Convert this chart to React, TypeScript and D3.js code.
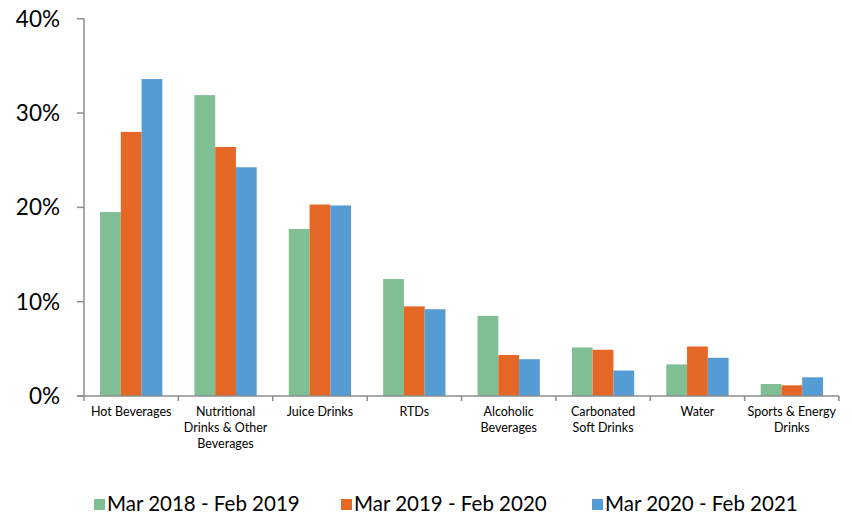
import React from "react";
import * as d3 from "d3";

const categories = [
  ["Hot Beverages"],
  ["Nutritional", "Drinks & Other", "Beverages"],
  ["Juice Drinks"],
  ["RTDs"],
  ["Alcoholic", "Beverages"],
  ["Carbonated", "Soft Drinks"],
  ["Water"],
  ["Sports & Energy", "Drinks"],
];
const seriesNames = ["Mar 2018 - Feb 2019", "Mar 2019 - Feb 2020", "Mar 2020 - Feb 2021"];
const series1 = [19.5, 31.9, 17.7, 12.4, 8.5, 5.15, 3.35, 1.27];
const series2 = [28.0, 26.4, 20.3, 9.5, 4.35, 4.9, 5.25, 1.13];
const series3 = [33.6, 24.25, 20.2, 9.2, 3.9, 2.7, 4.05, 1.98];
const colors = ["#7fbf93", "#e56726", "#559bd4"];
const yTicks = [0, 10, 20, 30, 40];

const W = 852, H = 515;
const FONT = "Lato, 'DejaVu Sans', sans-serif";

export default function App() {
  const x0 = 84, x1 = 839, yTop = 18.7, yBot = 396;
  const keys = categories.map((_, i) => String(i));
  const xb = d3.scaleBand().domain(keys).range([x0, x1]).paddingInner(0.34).paddingOuter(0.17);
  const xs = d3.scaleBand().domain(["0", "1", "2"]).range([0, xb.bandwidth()]);
  const y = d3.scaleLinear().domain([0, 40]).range([yBot, yTop]);
  const all = [series1, series2, series3];
  const step = (x1 - x0) / categories.length;

  return (
    <svg width={W} height={H} style={{ position: "absolute", left: 0, top: 0, background: "#fff" }} fontFamily={FONT}>
      {all.map((s, si) =>
        s.map((v, ci) => (
          <rect key={`${si}-${ci}`} x={(xb(String(ci)) as number) + (xs(String(si)) as number)} y={y(v)}
            width={xs.bandwidth()} height={yBot - y(v)} fill={colors[si]} />
        ))
      )}
      {/* y axis */}
      <line x1={x0} x2={x0} y1={yTop} y2={yBot} stroke="#8c8c8c" strokeWidth={1.5} />
      {yTicks.map((t) => (
        <g key={t}>
          <line x1={x0 - 7} x2={x0} y1={y(t)} y2={y(t)} stroke="#8c8c8c" strokeWidth={1.5} />
          <text x={60} y={y(t)} dy="0.36em" textAnchor="end" fontSize={22.5} fill="#000">{t}%</text>
        </g>
      ))}
      {/* x axis */}
      <line x1={x0 - 7} x2={x1} y1={yBot} y2={yBot} stroke="#8c8c8c" strokeWidth={1.5} />
      {d3.range(categories.length + 1).map((i) => (
        <line key={i} x1={x0 + i * step} x2={x0 + i * step} y1={yBot} y2={yBot + 5} stroke="#8c8c8c" strokeWidth={1.5} />
      ))}
      {categories.map((lines, ci) => (
        <text key={ci} x={x0 + (ci + 0.5) * step} y={412} textAnchor="middle" fontSize={12.5} fill="#000">
          {lines.map((l, li) => (
            <tspan key={li} x={x0 + (ci + 0.5) * step} dy={li === 0 ? "0.35em" : 16}>{l}</tspan>
          ))}
        </text>
      ))}
      {/* legend */}
      {seriesNames.map((n, i) => {
        const lx = [94, 341, 592][i];
        return (
          <g key={n}>
            <rect x={lx} y={499} width={11} height={11} fill={colors[i]} />
            <text x={lx + 13} y={511} fontSize={20.5} fill="#000">{n}</text>
          </g>
        );
      })}
    </svg>
  );
}
